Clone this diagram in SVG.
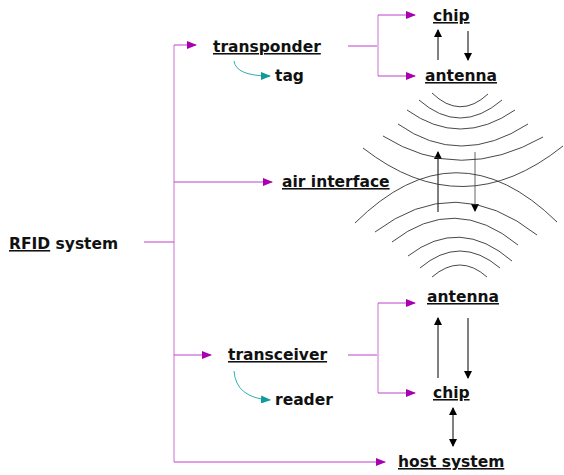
<svg xmlns="http://www.w3.org/2000/svg" width="564" height="475" viewBox="0 0 564 475">
<style>
text{font-family:"DejaVu Sans",Verdana,sans-serif;font-weight:bold;font-size:15.5px;fill:#111}
.u{text-decoration:underline}
.m{stroke:#c040c8;stroke-width:1;fill:none}
.mp{stroke:#e6b8e8;stroke-width:2;fill:none}
.k{stroke:#000;stroke-width:1;fill:none}
.g{stroke:#999;stroke-width:1.5;fill:none}
.w{stroke:#333;stroke-width:0.9;fill:none}
.t{stroke:#30b0b0;stroke-width:1;fill:none}
</style>
<defs>
<marker id="am" markerWidth="10" markerHeight="8" refX="9" refY="4" orient="auto" markerUnits="userSpaceOnUse"><path d="M0,0 L10,4 L0,8 Z" fill="#a800b0"/></marker>
<marker id="ak" markerWidth="8" markerHeight="9" refX="7" refY="4" orient="auto" markerUnits="userSpaceOnUse"><path d="M0,0 L8,4 L0,8 Z" fill="#000"/></marker>
<marker id="aks" markerWidth="8" markerHeight="9" refX="1" refY="4" orient="auto" markerUnits="userSpaceOnUse"><path d="M8,0 L0,4 L8,8 Z" fill="#000"/></marker>
<marker id="at" markerWidth="10" markerHeight="8" refX="9" refY="4" orient="auto" markerUnits="userSpaceOnUse"><path d="M0,0 L10,4 L0,8 Z" fill="#109a9a"/></marker>
</defs>
<g id="connectors">
<path class="mp" d="M174,45 V462"/>
<path class="m" d="M144,242 H174"/>
<path class="m" d="M174,45 H196" marker-end="url(#am)"/>
<path class="m" d="M174,182 H272" marker-end="url(#am)"/>
<path class="m" d="M174,355 H211" marker-end="url(#am)"/>
<path class="m" d="M174,462 H385" marker-end="url(#am)"/>
<path class="m" d="M348,46 H378"/>
<path class="mp" d="M378,15 V76"/>
<path class="m" d="M378,15 H415" marker-end="url(#am)"/>
<path class="m" d="M378,76 H415" marker-end="url(#am)"/>
<path class="m" d="M348,355 H378"/>
<path class="mp" d="M378,303 V393"/>
<path class="m" d="M378,303 H415" marker-end="url(#am)"/>
<path class="m" d="M378,393 H415" marker-end="url(#am)"/>
<path class="t" d="M234,61 Q236,76 270,76" marker-end="url(#at)"/>
<path class="t" d="M234,371 Q236,398 270,400" marker-end="url(#at)"/>
<path class="k" d="M438,60 V30" marker-end="url(#ak)"/>
<path class="k" d="M468,31 V60" marker-end="url(#ak)"/>
<path class="k" d="M438,212 V152" marker-end="url(#ak)"/>
<path class="g" d="M475,152 V211" marker-end="url(#ak)"/>
<path class="k" d="M438,378 V318" marker-end="url(#ak)"/>
<path class="k" d="M468,318 V378" marker-end="url(#ak)"/>
<path class="k" d="M453,408 V446" marker-start="url(#aks)" marker-end="url(#ak)"/>
</g>
<g id="waves">
<path class="w" d="M432,93 Q460,120 488,94"/>
<path class="w" d="M419,100 Q460,136 502,100"/>
<path class="w" d="M407,110 Q460,148 515,110"/>
<path class="w" d="M398,124 Q460,168 528,124"/>
<path class="w" d="M383,136 Q460,184 543,137"/>
<path class="w" d="M363,148 Q463,226 563,146"/>
<path class="w" d="M355,223 Q456,123 557,222"/>
<path class="w" d="M375,232 Q456,171 537,235"/>
<path class="w" d="M392,242 Q455,193 518,245"/>
<path class="w" d="M408,256 Q460,216 512,261"/>
<path class="w" d="M420,268 Q460,234 500,268"/>
<path class="w" d="M432,277 Q460,253 487,277"/>
</g>
<g id="rfid"><text x="9" y="249"><tspan class="u">RFID</tspan> system</text></g>
<g id="transponder"><text x="213" y="52" class="u">transponder</text></g>
<g id="tag"><text x="275" y="81">tag</text></g>
<g id="chip1"><text x="433" y="21" class="u">chip</text></g>
<g id="antenna1"><text x="425" y="81" class="u">antenna</text></g>
<g id="air"><text x="282" y="187" class="u">air interface</text></g>
<g id="transceiver"><text x="228" y="360" class="u">transceiver</text></g>
<g id="reader"><text x="275" y="405">reader</text></g>
<g id="antenna2"><text x="427" y="302" class="u">antenna</text></g>
<g id="chip2"><text x="433" y="398" class="u">chip</text></g>
<g id="host"><text x="398" y="467" class="u">host system</text></g>
</svg>
